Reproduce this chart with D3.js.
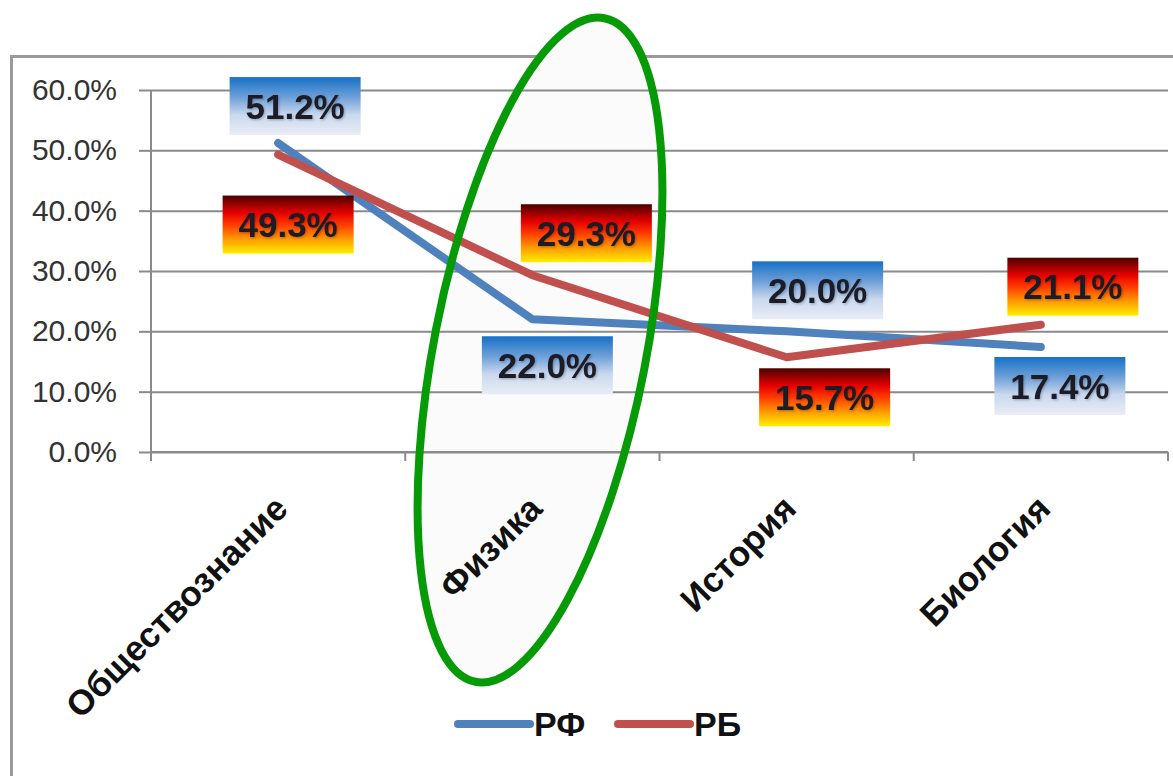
<!DOCTYPE html>
<html><head><meta charset="utf-8">
<script src="https://cdn.jsdelivr.net/npm/d3@7"></script>
<style>html,body{margin:0;padding:0;background:#fff;}svg{display:block;}</style>
</head><body>
<svg id="c" width="1173" height="776"></svg>
<script>
const categories = ["Обществознание", "Физика", "История", "Биология"];
const seriesNames = ["РФ", "РБ"];
const valuesRF = [0.512, 0.220, 0.200, 0.174];
const valuesRB = [0.493, 0.293, 0.157, 0.211];
const yTicks = [0, 0.1, 0.2, 0.3, 0.4, 0.5, 0.6];
// label box offsets from the point (layout, px)
const labelOffsetsRF = [[17,-37],[15,46],[31,-41],[19,39]];
const labelOffsetsRB = [[10,70],[54,-42],[38,40],[32,-38]];

const svg = d3.select("#c");
const L = 151, R = 1168, T = 90, B = 452;
const x = d3.scaleBand().domain(categories).range([L, R]).padding(0);
const y = d3.scaleLinear().domain([0, 0.6]).range([B, T]);
const cx = c => x(c) + x.bandwidth()/2;

const defs = svg.append("defs");
const gb = defs.append("linearGradient").attr("id","gBlue").attr("x1",0).attr("y1",0).attr("x2",0).attr("y2",1);
[[0,"#1670c6"],[0.35,"#6fa0d8"],[0.65,"#c9d8ee"],[1,"#e9edf6"]].forEach(s=>gb.append("stop").attr("offset",s[0]).attr("stop-color",s[1]));
const gr = defs.append("linearGradient").attr("id","gRed").attr("x1",0).attr("y1",0).attr("x2",0).attr("y2",1);
[[0,"#4a0000"],[0.3,"#e60000"],[0.5,"#ff3a00"],[0.75,"#ff9a00"],[1,"#ffee00"]].forEach(s=>gr.append("stop").attr("offset",s[0]).attr("stop-color",s[1]));
const sh = defs.append("filter").attr("id","ts").attr("x","-10%").attr("y","-10%").attr("width","130%").attr("height","130%");
sh.append("feDropShadow").attr("dx",1.2).attr("dy",1.2).attr("stdDeviation",1).attr("flood-color","#000").attr("flood-opacity",0.25);

// frame
svg.append("rect").attr("x",11.5).attr("y",56.5).attr("width",1300).attr("height",800)
  .attr("fill","none").attr("stroke","#9a9a9a").attr("stroke-width",3);

// ellipse fill (under everything)
const ell = {cx:540, cy:350, rx:106, ry:338, rot:11};
svg.append("ellipse").attr("cx",0).attr("cy",0).attr("rx",ell.rx).attr("ry",ell.ry)
  .attr("transform",`translate(${ell.cx},${ell.cy}) rotate(${ell.rot})`)
  .attr("fill","#fbfbfb").attr("stroke","none");

// gridlines
const grid = svg.append("g").attr("transform",`translate(${L},0)`)
  .call(d3.axisLeft(y).tickValues(yTicks).tickSize(-(R-L)).tickFormat(""));
grid.select(".domain").remove();
grid.selectAll("line").attr("stroke","#8a8a8a").attr("stroke-width",2);

// y axis
const ya = svg.append("g").attr("transform",`translate(${L},0)`)
  .call(d3.axisLeft(y).tickValues(yTicks).tickSize(12).tickPadding(22).tickFormat(d3.format(".1%")));
ya.select(".domain").attr("stroke","#8a8a8a").attr("stroke-width",2).attr("d",`M0,${T}V${B}`);
ya.selectAll("line").attr("stroke","#8a8a8a").attr("stroke-width",2);
ya.selectAll("text").attr("font-family","Liberation Sans, Arial, sans-serif").attr("font-size",30).attr("fill","#333");

// x axis
const xa = svg.append("g").attr("transform",`translate(0,${B})`)
  .call(d3.axisBottom(x).tickSize(0).tickFormat(""));
xa.select(".domain").attr("stroke","#8a8a8a").attr("stroke-width",2).attr("d",`M${L},0H${R}`);
xa.selectAll(".tick").remove();
const bounds = categories.map(c=>x(c)).concat([R]);
xa.selectAll("line.b").data(bounds).enter().append("line")
  .attr("x1",d=>d).attr("x2",d=>d).attr("y1",0).attr("y2",9).attr("stroke","#8a8a8a").attr("stroke-width",2);

// x labels
svg.append("g").selectAll("text").data(categories).enter().append("text")
  .attr("transform",d=>`translate(${cx(d)+3},${B+50}) rotate(-45)`)
  .attr("text-anchor","end").attr("dy","0.35em")
  .attr("font-family","Liberation Sans, Arial, sans-serif").attr("font-weight","bold").attr("font-size",35)
  .attr("fill","#111").text(d=>d);

// lines
const line = d3.line().x((d,i)=>cx(categories[i])).y(d=>y(d));
svg.append("path").datum(valuesRF).attr("d",line).attr("fill","none")
  .attr("stroke","#4f81bd").attr("stroke-width",8).attr("stroke-linecap","round").attr("stroke-linejoin","round");
svg.append("path").datum(valuesRB).attr("d",line).attr("fill","none")
  .attr("stroke","#c0504d").attr("stroke-width",8).attr("stroke-linecap","round").attr("stroke-linejoin","round");

// data labels
const bw = 131, bh = 58;
function labels(vals, offs, grad){
  const g = svg.append("g").selectAll("g").data(vals).enter().append("g")
    .attr("transform",(d,i)=>`translate(${cx(categories[i])+offs[i][0]},${y(d)+offs[i][1]})`);
  g.append("rect").attr("x",-bw/2).attr("y",-bh/2).attr("width",bw).attr("height",bh).attr("fill",`url(#${grad})`);
  g.append("text").attr("text-anchor","middle").attr("dy","0.36em")
    .attr("font-family","Liberation Sans, Arial, sans-serif").attr("font-weight","bold").attr("font-size",35)
    .attr("fill","#1a1a28").attr("filter","url(#ts)").text(d=>d3.format(".1%")(d));
}
labels(valuesRF, labelOffsetsRF, "gBlue");
labels(valuesRB, labelOffsetsRB, "gRed");

// ellipse stroke on top
svg.append("ellipse").attr("cx",0).attr("cy",0).attr("rx",ell.rx).attr("ry",ell.ry)
  .attr("transform",`translate(${ell.cx},${ell.cy}) rotate(${ell.rot})`)
  .attr("fill","none").attr("stroke","#069a06").attr("stroke-width",8);

// legend
const legColors = ["#4f81bd","#c0504d"];
const legX = [458, 618];
const lg = svg.append("g").selectAll("g").data(seriesNames).enter().append("g")
  .attr("transform",(d,i)=>`translate(${legX[i]},724)`);
lg.append("line").attr("x1",0).attr("x2",72).attr("y1",0).attr("y2",0)
  .attr("stroke",(d,i)=>legColors[i]).attr("stroke-width",8).attr("stroke-linecap","round");
lg.append("text").attr("x",76).attr("dy","0.36em")
  .attr("font-family","Liberation Sans, Arial, sans-serif").attr("font-weight","bold").attr("font-size",34)
  .attr("fill","#111").text(d=>d);
</script>
</body></html>
